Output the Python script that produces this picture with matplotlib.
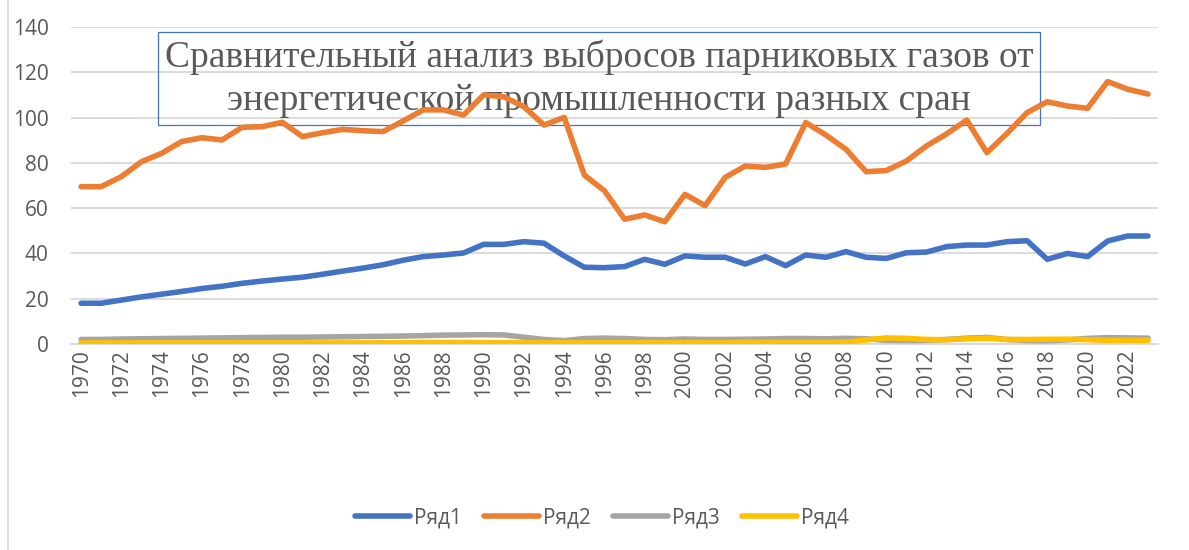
import numpy as np
import matplotlib
matplotlib.use("Agg")
from matplotlib import pyplot as plt
from matplotlib.patches import Rectangle
from matplotlib.lines import Line2D

# data
years = list(range(1970, 2024))

row1 = [18.0, 18.0, 19.4, 20.8, 22.0, 23.2, 24.5, 25.5, 26.8, 27.8,
        28.7, 29.5, 30.8, 32.2, 33.5, 35.0, 37.0, 38.6, 39.3, 40.2,
        44.0, 44.0, 45.2, 44.5, 38.9, 33.9, 33.7, 34.2, 37.4, 35.2,
        38.9, 38.3, 38.3, 35.3, 38.6, 34.6, 39.3, 38.3, 40.8, 38.3,
        37.8, 40.3, 40.6, 43.0, 43.7, 43.7, 45.2, 45.6, 37.4, 40.0,
        38.6, 45.5, 47.7, 47.7]

row2 = [69.5, 69.5, 73.9, 80.5, 84.2, 89.4, 91.1, 90.1, 95.7, 96.0,
        97.9, 91.6, 93.3, 94.8, 94.2, 93.8, 98.5, 103.4, 103.4, 101.1,
        110.0, 109.2, 104.8, 96.7, 100.1, 74.6, 67.7, 55.1, 57.0, 54.0,
        66.1, 61.1, 73.6, 78.6, 78.0, 79.5, 97.8, 92.3, 86.0, 76.1,
        76.6, 80.8, 87.5, 92.8, 98.9, 84.5, 93.0, 102.2, 107.0, 105.1,
        104.1, 115.9, 112.5, 110.4]

row3 = [2.0, 2.0, 2.2, 2.3, 2.4, 2.5, 2.6, 2.7, 2.8, 2.9,
        3.0, 3.0, 3.1, 3.2, 3.3, 3.4, 3.5, 3.7, 3.9, 4.0,
        4.1, 4.0, 3.0, 2.0, 1.5, 2.4, 2.6, 2.4, 2.0, 1.9,
        2.2, 2.0, 2.0, 2.1, 2.2, 2.4, 2.4, 2.3, 2.5, 2.3,
        1.6, 1.5, 1.6, 2.0, 2.6, 2.9, 2.0, 1.5, 1.4, 1.8,
        2.5, 2.8, 2.7, 2.6]

row4 = [0.5, 0.5, 0.5, 0.5, 0.5, 0.5, 0.5, 0.5, 0.5, 0.5,
        0.5, 0.5, 0.5, 0.5, 0.5, 0.5, 0.6, 0.7, 0.7, 0.7,
        0.6, 0.6, 0.6, 0.6, 0.6, 0.6, 0.6, 0.6, 0.6, 0.6,
        0.6, 0.6, 0.6, 0.7, 0.7, 0.7, 0.7, 0.7, 0.8, 1.8,
        2.7, 2.5, 2.0, 1.9, 2.3, 2.5, 2.0, 2.0, 2.1, 2.1,
        1.9, 1.6, 1.7, 1.6]

names = ["Ряд1", "Ряд2", "Ряд3", "Ряд4"]
colors = ["#4472C4", "#ED7D31", "#A5A5A5", "#FFC000"]
title = "Сравнительный анализ выбросов парниковых газов от\nэнергетической промышленности разных сран"

text_color = "#595959"
grid_color = "#D9D9D9"

plt.rcParams["font.family"] = ["Open Sans", "DejaVu Sans"]

fig = plt.figure(figsize=(11.89, 5.5), dpi=100)
ax = fig.add_axes([71 / 1189, (550 - 344) / 550, (1158 - 71) / 1189, 317 / 550])

x = np.arange(len(years))
for vals, name, c in zip([row1, row2, row3, row4], names, colors):
    ax.plot(x, vals, color=c, lw=4, label=name,
            solid_capstyle="round", solid_joinstyle="round", zorder=3)

ax.set_xlim(-0.5, len(years) - 0.5)
ax.set_ylim(0, 140)
ax.set_yticks(range(0, 141, 20))
ax.set_xticks(x[::2])
ax.set_xticklabels([str(y) for y in years[::2]], rotation=90)

ax.grid(axis="y", color=grid_color, lw=1.3, zorder=0)
ax.set_axisbelow(True)
for side in ["top", "right", "left"]:
    ax.spines[side].set_visible(False)
ax.spines["bottom"].set_color(grid_color)
ax.spines["bottom"].set_linewidth(1.3)
ax.tick_params(axis="both", length=0, labelsize=15, labelcolor=text_color)
ax.tick_params(axis="y", pad=16)
ax.tick_params(axis="x", pad=4)

# title in a thin blue frame, drawn under the lines
ax.add_patch(Rectangle((158 / 1189, (550 - 125) / 550), 882 / 1189, 93 / 550,
                       transform=fig.transFigure, fill=False,
                       edgecolor="#4472C4", lw=0.9, zorder=1, clip_on=False))
ax.text(599 / 1189, (550 - 79) / 550, title, transform=fig.transFigure,
        ha="center", va="center", fontsize=27, color=text_color,
        family=["Liberation Serif"], linespacing=1.32, zorder=1)

# left border of the chart area
fig.add_artist(Line2D([8 / 1189, 8 / 1189], [0, 1], color=grid_color, lw=1.2))

handles = [Line2D([], [], color=c, lw=4, solid_capstyle="round") for c in colors]
fig.legend(handles, names, loc="center", bbox_to_anchor=(602 / 1189, 32 / 550),
           ncol=4, frameon=False, fontsize=15, handlelength=2.6,
           handletextpad=0.2, columnspacing=1.1, labelcolor=text_color)

fig.savefig("out.png", dpi=100)
